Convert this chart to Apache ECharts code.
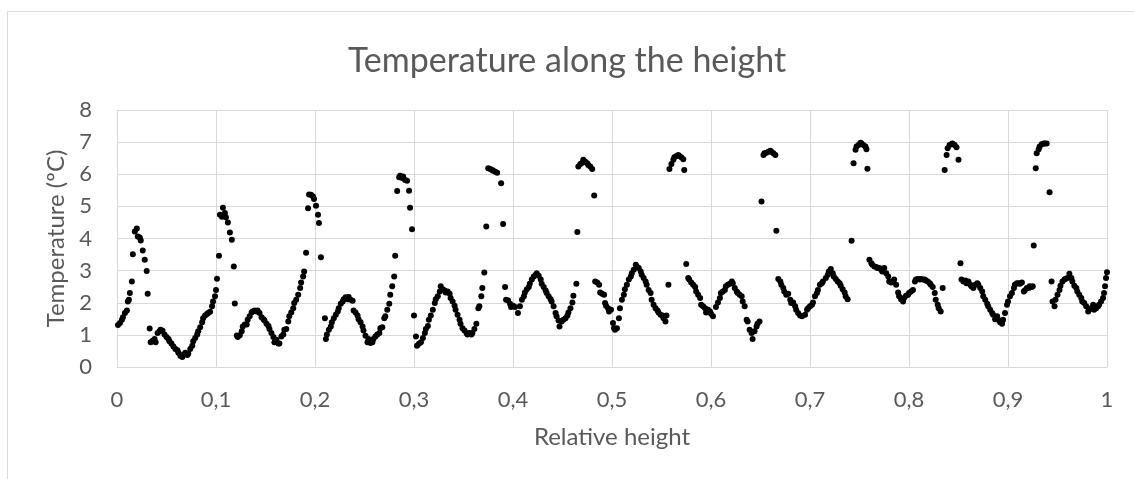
<!DOCTYPE html>
<html>
<head>
<meta charset="utf-8">
<title>Temperature along the height</title>
<script src="https://cdn.jsdelivr.net/npm/echarts@6/dist/echarts.min.js"></script>
<style>
  html, body { margin: 0; padding: 0; background: #fff; }
  #chart { width: 1134px; height: 479px; }
</style>
</head>
<body>
<div id="chart"></div>
<script>
  // relative height (x) and temperature in ºC (y)
  var relHeight = [
    0.001,0.003,0.005,0.006,0.008,0.010,0.011,0.012,0.013,0.015,
    0.016,0.018,0.020,0.021,0.023,0.024,0.026,0.028,0.030,0.031,
    0.033,0.034,0.036,0.038,0.039,0.041,0.043,0.044,0.046,0.048,
    0.050,0.052,0.053,0.055,0.057,0.059,0.061,0.062,0.064,0.066,
    0.067,0.069,0.071,0.072,0.074,0.076,0.077,0.079,0.081,0.082,
    0.084,0.086,0.087,0.089,0.091,0.092,0.094,0.096,0.097,0.099,
    0.100,0.101,0.103,0.104,0.106,0.107,0.109,0.110,0.112,0.114,
    0.116,0.118,0.119,0.121,0.122,0.124,0.126,0.127,0.129,0.131,
    0.132,0.134,0.136,0.137,0.139,0.141,0.142,0.144,0.146,0.148,
    0.149,0.151,0.153,0.154,0.156,0.158,0.159,0.161,0.163,0.164,
    0.166,0.168,0.169,0.171,0.173,0.174,0.176,0.178,0.179,0.181,
    0.183,0.185,0.186,0.188,0.189,0.191,0.193,0.194,0.196,0.198,
    0.199,0.201,0.203,0.204,0.206,0.210,0.211,0.212,0.214,0.216,
    0.217,0.219,0.221,0.223,0.224,0.226,0.228,0.229,0.231,0.233,
    0.234,0.236,0.238,0.239,0.241,0.243,0.244,0.246,0.248,0.249,
    0.251,0.253,0.254,0.256,0.258,0.259,0.261,0.263,0.265,0.266,
    0.268,0.270,0.271,0.273,0.275,0.276,0.278,0.280,0.281,0.283,
    0.285,0.286,0.288,0.289,0.291,0.293,0.295,0.296,0.298,0.300,
    0.302,0.303,0.305,
    0.307,0.309,0.311,0.312,0.314,0.315,0.317,0.319,0.321,0.322,
    0.324,0.326,0.327,0.329,0.331,0.332,0.334,0.336,0.337,0.339,
    0.341,0.342,0.344,0.346,0.347,0.349,0.351,0.353,0.354,0.356,
    0.358,0.359,0.361,0.363,0.365,0.366,0.368,0.369,0.371,0.373,
    0.375,0.377,0.379,0.380,0.382,0.384,0.388,0.390,0.392,0.393,
    0.395,0.397,0.398,0.400,0.402,0.405,0.407,0.409,0.411,0.412,
    0.414,0.416,0.417,0.419,0.421,0.423,0.424,0.426,0.428,0.429,
    0.431,0.433,0.434,0.436,0.438,0.439,0.441,0.443,0.444,0.446,
    0.447,0.449,0.451,0.453,0.455,0.456,0.458,0.460,0.461,0.464,
    0.465,0.466,0.468,0.470,0.471,0.473,0.475,0.476,0.478,0.480,
    0.482,0.483,0.485,0.487,0.488,0.490,0.492,0.493,0.494,0.496,
    0.497,0.499,0.501,0.502,0.503,0.505,0.507,0.508,0.510,0.512,
    0.513,0.515,0.517,0.519,0.520,0.522,0.524,0.525,0.527,0.529,
    0.530,0.532,0.534,0.535,0.537,0.539,0.540,0.542,0.544,0.546,
    0.547,0.549,0.551,0.552,0.554,0.555,0.557,0.558,0.560,0.562,
    0.563,0.565,0.567,0.568,0.570,0.572,0.573,0.575,0.577,0.578,
    0.580,0.582,0.584,0.585,0.587,0.589,0.590,0.592,0.594,0.595,
    0.597,0.599,0.600,0.602,0.605,0.607,0.609,0.610,0.612,0.614,
    0.615,0.617,0.619,0.621,0.622,0.624,0.626,0.627,0.629,0.631,
    0.632,0.634,0.636,0.637,0.639,0.641,0.642,0.644,0.646,0.647,
    0.649,0.651,
    0.653,0.654,0.656,0.658,0.660,0.661,0.663,0.665,0.666,0.668,
    0.670,0.671,0.673,0.674,0.676,0.678,0.680,0.681,0.683,0.685,
    0.686,0.688,0.690,0.692,0.695,0.697,0.698,0.700,0.702,0.703,
    0.705,0.707,0.708,0.710,0.712,0.713,0.716,0.718,0.719,0.721,
    0.723,0.724,0.726,0.728,0.730,0.731,0.733,0.735,0.736,0.738,
    0.742,0.744,0.746,0.747,0.749,0.751,0.752,0.754,0.756,0.757,
    0.758,0.760,0.762,0.763,0.765,0.767,0.768,0.770,0.772,0.773,
    0.775,0.777,0.779,0.780,0.782,0.784,0.785,0.787,0.789,0.790,
    0.792,0.794,0.795,0.797,0.799,0.800,0.802,0.804,0.806,0.807,
    0.809,0.811,0.812,0.814,0.816,0.817,0.819,0.821,0.822,0.824,
    0.826,0.827,0.829,0.830,0.832,0.834,0.836,0.838,0.839,0.841,
    0.843,0.844,0.846,0.848,0.850,0.852,0.853,0.855,0.857,0.858,
    0.860,0.862,0.863,0.865,0.867,0.869,0.870,0.872,0.874,0.875,
    0.877,0.879,0.880,0.882,0.884,0.885,0.887,0.889,0.890,0.892,
    0.894,0.895,0.897,0.899,0.900,0.902,0.904,0.906,0.907,0.909,
    0.911,0.912,0.914,0.916,0.917,0.919,0.921,0.922,0.924,0.925,
    0.926,0.928,0.929,0.931,0.932,0.934,0.936,0.937,0.939,0.942,
    0.944,0.945,0.947,0.948,0.950,0.952,0.953,0.955,0.957,0.958,
    0.960,0.962,0.964,0.965,0.967,0.969,0.970,0.972,0.974,0.975,
    0.977,0.979,0.981,0.982,0.984,0.986,0.987,0.989,0.991,0.992,
    0.994,0.996,0.997,0.998,0.999,1.000
  ];

  var temperature = [
    1.31,1.37,1.47,1.55,1.68,1.76,2.04,2.09,2.30,2.66,
    3.51,4.22,4.31,4.06,4.03,3.94,3.63,3.34,2.99,2.28,
    1.20,0.77,0.82,0.87,0.77,1.06,1.11,1.16,1.13,1.01,
    0.93,0.87,0.80,0.73,0.64,0.56,0.52,0.44,0.35,0.31,
    0.38,0.44,0.37,0.41,0.56,0.66,0.80,0.90,1.01,1.11,
    1.24,1.39,1.52,1.60,1.65,1.68,1.72,1.89,2.04,2.20,
    2.40,2.75,3.46,4.74,4.68,4.96,4.79,4.66,4.50,4.19,
    3.96,3.13,1.98,0.98,0.93,0.99,1.11,1.26,1.32,1.32,
    1.47,1.58,1.70,1.73,1.76,1.73,1.76,1.68,1.55,1.49,
    1.45,1.35,1.28,1.18,1.06,0.93,0.77,0.85,0.73,0.73,
    0.95,1.01,1.16,1.18,1.42,1.58,1.70,1.83,1.99,2.09,
    2.25,2.46,2.63,2.82,2.97,3.56,4.94,5.37,5.36,5.31,
    5.23,5.02,4.74,4.48,3.42,1.52,0.87,1.01,1.16,1.26,
    1.39,1.52,1.63,1.73,1.83,1.97,2.04,2.11,2.17,2.11,
    2.18,2.09,2.06,1.76,1.70,1.60,1.49,1.39,1.26,1.14,
    0.97,0.77,0.87,0.75,0.77,0.87,0.95,1.01,1.06,1.21,
    1.24,1.52,1.58,1.78,1.97,2.25,2.51,2.82,3.46,5.48,
    5.91,5.95,5.88,5.93,5.82,5.80,5.49,4.96,4.29,1.60,
    0.95,0.66,0.72,
    0.77,0.90,1.06,1.18,1.28,1.47,1.60,1.78,1.99,2.11,
    2.20,2.35,2.51,2.42,2.38,2.32,2.35,2.28,2.15,2.04,
    1.91,1.78,1.63,1.47,1.35,1.21,1.14,1.06,1.01,1.06,
    1.01,1.06,1.18,1.35,1.83,1.89,2.20,2.46,2.94,4.37,
    6.19,6.16,6.13,6.11,6.08,6.05,5.72,4.45,2.49,2.09,
    2.07,1.97,1.87,1.91,1.87,1.68,1.89,2.09,2.20,2.32,
    2.42,2.49,2.59,2.72,2.82,2.87,2.92,2.84,2.72,2.59,
    2.49,2.38,2.30,2.20,2.11,2.04,1.89,1.68,1.58,1.45,
    1.26,1.42,1.47,1.52,1.60,1.70,1.83,2.01,2.22,2.59,
    4.20,6.24,6.32,6.36,6.45,6.39,6.34,6.29,6.24,6.16,
    5.34,2.66,2.63,2.56,2.32,2.28,2.25,1.99,1.91,1.83,
    1.73,1.78,1.37,1.21,1.16,1.21,1.52,1.83,2.09,2.25,
    2.42,2.56,2.72,2.82,2.92,3.03,3.18,3.13,3.08,2.97,
    2.87,2.77,2.66,2.56,2.40,2.30,2.09,1.94,1.83,1.76,
    1.70,1.63,1.60,1.52,1.42,1.60,2.56,6.16,6.32,6.45,
    6.53,6.57,6.60,6.57,6.53,6.47,6.13,3.21,2.77,2.72,
    2.63,2.56,2.49,2.35,2.25,2.15,1.94,1.89,1.83,1.70,
    1.78,1.73,1.66,1.58,1.87,2.01,2.15,2.30,2.35,2.40,
    2.51,2.56,2.59,2.66,2.61,2.46,2.35,2.30,2.25,2.20,
    2.04,1.89,1.47,1.42,1.16,1.06,0.87,1.11,1.26,1.35,
    1.42,5.15,
    6.60,6.65,6.67,6.70,6.73,6.70,6.65,6.60,4.24,2.74,
    2.66,2.56,2.46,2.35,2.25,2.28,2.09,1.99,2.01,1.89,
    1.78,1.68,1.60,1.58,1.63,1.78,1.83,1.89,1.94,2.01,
    2.20,2.30,2.40,2.56,2.61,2.66,2.77,2.87,2.97,3.05,
    2.92,2.82,2.74,2.66,2.61,2.53,2.42,2.32,2.20,2.11,
    3.93,6.34,6.76,6.86,6.91,6.98,6.96,6.91,6.86,6.78,
    6.17,3.34,3.23,3.18,3.13,3.11,3.08,3.08,3.03,2.97,
    3.08,2.92,2.82,2.66,2.63,2.66,2.72,2.56,2.32,2.20,
    2.11,2.04,2.15,2.22,2.25,2.30,2.35,2.40,2.66,2.72,
    2.74,2.72,2.74,2.72,2.72,2.69,2.66,2.61,2.56,2.49,
    2.30,2.09,1.94,1.83,1.73,2.46,6.13,6.60,6.81,6.91,
    6.94,6.96,6.91,6.84,6.45,3.23,2.72,2.66,2.69,2.61,
    2.66,2.56,2.51,2.46,2.56,2.61,2.56,2.46,2.35,2.20,
    2.09,1.97,1.89,1.78,1.68,1.63,1.49,1.58,1.47,1.39,
    1.35,1.47,1.68,1.94,2.04,2.20,2.30,2.46,2.56,2.61,
    2.61,2.59,2.63,2.35,2.38,2.46,2.46,2.51,2.49,2.51,
    3.78,6.19,6.65,6.78,6.86,6.93,6.96,6.96,6.96,5.44,
    2.66,2.04,1.89,2.09,2.25,2.40,2.53,2.66,2.72,2.74,
    2.77,2.90,2.77,2.66,2.53,2.46,2.35,2.25,2.15,2.04,
    1.99,1.89,1.73,1.78,1.83,1.94,1.78,1.83,1.89,1.94,
    2.04,2.15,2.30,2.51,2.77,2.95
  ];

  var xMin = 0, xMax = 1, xStep = 0.1;
  var yMin = 0, yMax = 8, yStep = 1;

  var textColor = '#595959';
  var gridColor = '#d9d9d9';
  var fontName = 'Lato';

  var points = relHeight.map(function (h, i) {
    return [h, temperature[i]];
  });

  var chart = echarts.init(document.getElementById('chart'), null, { renderer: 'canvas' });
  chart.setOption({
    animation: false,
    backgroundColor: '#fff',
    textStyle: { fontFamily: fontName },
    title: {
      text: 'Temperature along the height',
      left: 'center',
      top: 39,
      textStyle: { color: textColor, fontSize: 34, fontWeight: 'normal', fontFamily: fontName }
    },
    graphic: [{
      // chart area border, only the top and left edges fall inside the picture
      type: 'rect',
      silent: true,
      shape: { x: 7.5, y: 11.5, width: 1300, height: 700 },
      style: { fill: 'none', stroke: gridColor, lineWidth: 1 }
    }],
    grid: {
      left: 117,
      right: 27,
      top: 110,
      bottom: 112,
      containLabel: false
    },
    xAxis: {
      type: 'value',
      min: xMin,
      max: xMax,
      interval: xStep,
      name: 'Relative height',
      nameLocation: 'middle',
      nameGap: 58,
      nameTextStyle: { color: textColor, fontSize: 24, fontFamily: fontName },
      axisLine: { show: true, lineStyle: { color: gridColor, width: 1 } },
      axisTick: { show: false },
      axisLabel: {
        color: textColor,
        fontSize: 22,
        margin: 22,
        formatter: function (v) {
          return String(Math.round(v * 10) / 10).replace('.', ',');
        }
      },
      splitLine: { show: true, lineStyle: { color: gridColor, width: 1 } }
    },
    yAxis: {
      type: 'value',
      min: yMin,
      max: yMax,
      interval: yStep,
      name: 'Temperature (ºC)',
      nameLocation: 'middle',
      nameGap: 48,
      nameTextStyle: { color: textColor, fontSize: 24, fontFamily: fontName },
      axisLine: { show: true, lineStyle: { color: gridColor, width: 1 } },
      axisTick: { show: false },
      axisLabel: { color: textColor, fontSize: 22, margin: 25 },
      splitLine: { show: true, lineStyle: { color: gridColor, width: 1 } }
    },
    series: [{
      name: 'Temperature',
      type: 'scatter',
      data: points,
      symbol: 'circle',
      symbolSize: 6,
      itemStyle: { color: '#000', opacity: 1 }
    }]
  });
</script>
</body>
</html>
